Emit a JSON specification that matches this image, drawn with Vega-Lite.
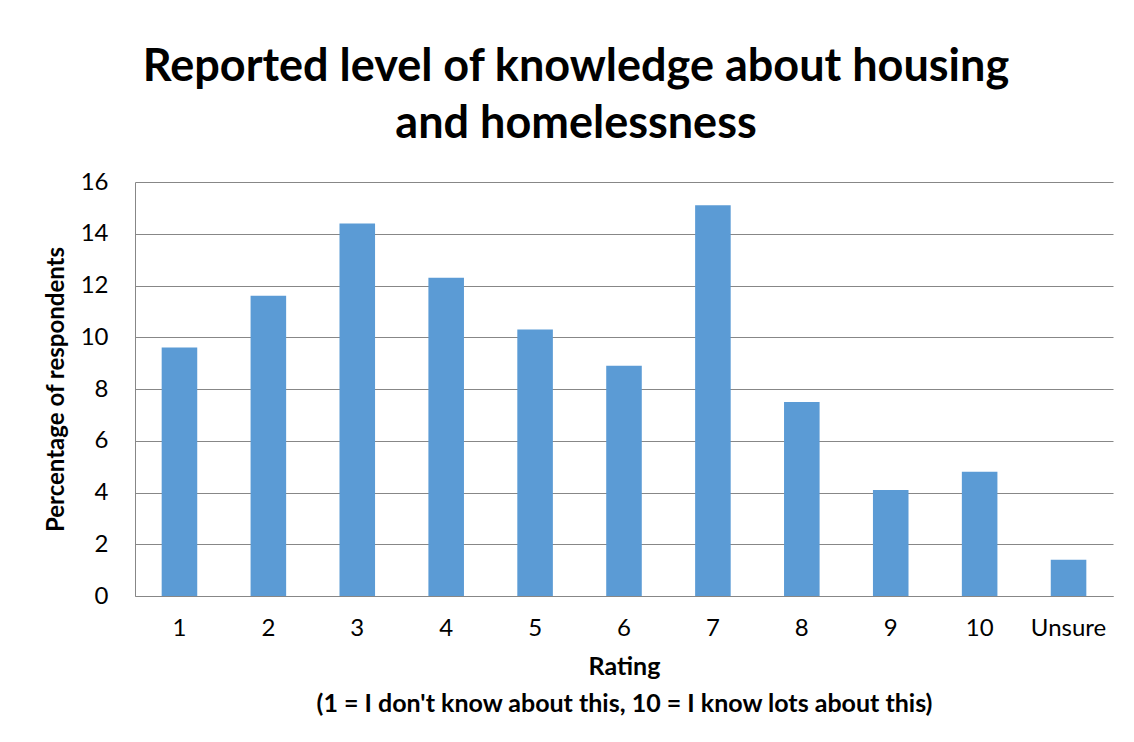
{
  "$schema": "https://vega.github.io/schema/vega-lite/v6.json",
  "autosize": "none",
  "width": 978,
  "height": 414,
  "padding": {"left": 135, "top": 182, "right": 21, "bottom": 146},
  "background": "white",
  "title": {
    "text": ["Reported level of knowledge about housing", "and homelessness"],
    "font": "Lato",
    "fontWeight": "bold",
    "fontSize": 45,
    "lineHeight": 57,
    "color": "#000000",
    "anchor": "middle",
    "dx": -48,
    "offset": 23
  },
  "data": {
    "values": [
      {"rating": "1", "pct": 9.6},
      {"rating": "2", "pct": 11.6},
      {"rating": "3", "pct": 14.4},
      {"rating": "4", "pct": 12.3},
      {"rating": "5", "pct": 10.3},
      {"rating": "6", "pct": 8.9},
      {"rating": "7", "pct": 15.1},
      {"rating": "8", "pct": 7.5},
      {"rating": "9", "pct": 4.1},
      {"rating": "10", "pct": 4.8},
      {"rating": "Unsure", "pct": 1.4}
    ]
  },
  "mark": {"type": "bar", "color": "#5B9BD5"},
  "encoding": {
    "x": {
      "field": "rating",
      "type": "nominal",
      "sort": null,
      "scale": {"paddingInner": 0.6, "paddingOuter": 0.3},
      "axis": {
        "title": ["Rating", "(1 = I don't know about this, 10 = I know lots about this)"],
        "titleFont": "Lato",
        "titleFontWeight": "bold",
        "titleFontSize": 25,
        "titleLineHeight": 37,
        "titlePadding": 14,
        "titleColor": "#000000",
        "labelFont": "Lato",
        "labelFontSize": 24,
        "labelColor": "#000000",
        "labelAngle": 0,
        "labelPadding": 20,
        "ticks": false,
        "domainColor": "#878787",
        "domainWidth": 1
      }
    },
    "y": {
      "field": "pct",
      "type": "quantitative",
      "scale": {"domain": [0, 16]},
      "axis": {
        "title": "Percentage of respondents",
        "titleFont": "Lato",
        "titleFontWeight": "bold",
        "titleFontSize": 24,
        "titleColor": "#000000",
        "titlePadding": 12,
        "values": [0, 2, 4, 6, 8, 10, 12, 14, 16],
        "labelFont": "Lato",
        "labelFontSize": 24,
        "labelColor": "#000000",
        "labelPadding": 27,
        "ticks": false,
        "grid": true,
        "gridColor": "#878787",
        "gridWidth": 1,
        "domainColor": "#878787",
        "domainWidth": 1
      }
    }
  },
  "config": {
    "view": {"stroke": null}
  }
}
